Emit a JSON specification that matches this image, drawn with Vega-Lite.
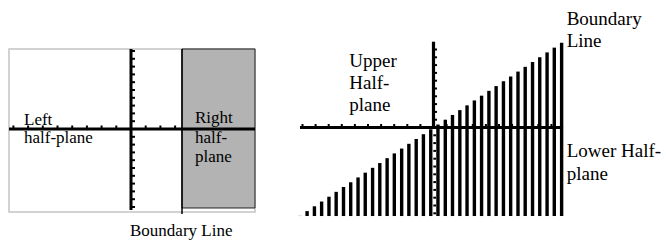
{
  "$schema": "https://vega.github.io/schema/vega-lite/v6.json",
  "padding": 0,
  "spacing": 0,
  "bounds": "flush",
  "config": {"view": {"stroke": null}, "text": {"font": "Liberation Serif"}},
  "hconcat": [
    {
      "width": 290,
      "height": 241,
      "encoding": {
        "x": {"field": "x", "type": "quantitative", "axis": null, "scale": {"domain": [-8.912, 10.816], "nice": false, "zero": false}},
        "y": {"field": "y", "type": "quantitative", "axis": null, "scale": {"domain": [-14.359, 16.538], "nice": false, "zero": false}}
      },
      "layer": [
        {
          "data": {"values": [{"x": -8.30, "y": 10.256, "x2": 8.435, "y2": -10.641}]},
          "mark": {"type": "rect", "fill": "white", "stroke": "#c4c4c4", "strokeWidth": 1.5},
          "encoding": {"x2": {"field": "x2"}, "y2": {"field": "y2"}}
        },
        {
          "data": {"values": [{"x": 3.469, "y": 10.256, "x2": 8.435, "y2": -10.128}]},
          "mark": {"type": "rect", "fill": "#b3b3b3", "stroke": "#222222", "strokeWidth": 1},
          "encoding": {"x2": {"field": "x2"}, "y2": {"field": "y2"}}
        },
        {
          "data": {"values": [
            {"x": -8.30, "y": 0, "x2": 8.435, "y2": 0},
            {"x": 0, "y": 10.256, "x2": 0, "y2": -10.385}
          ]},
          "mark": {"type": "rule", "color": "black", "strokeWidth": 3},
          "encoding": {"x2": {"field": "x2"}, "y2": {"field": "y2"}}
        },
        {
          "data": {"values": [{"x": 3.469, "y": 10.256, "x2": 3.469, "y2": -10.897}]},
          "mark": {"type": "rule", "color": "black", "strokeWidth": 1.5},
          "encoding": {"x2": {"field": "x2"}, "y2": {"field": "y2"}}
        },
        {
          "data": {"values": [
            {"x": -8, "y": 0}, {"x": -7, "y": 0}, {"x": -6, "y": 0}, {"x": -5, "y": 0},
            {"x": -4, "y": 0}, {"x": -3, "y": 0}, {"x": -2, "y": 0}, {"x": -1, "y": 0},
            {"x": 1, "y": 0}, {"x": 2, "y": 0}, {"x": 3, "y": 0}
          ]},
          "mark": {"type": "rule", "color": "black", "strokeWidth": 2},
          "encoding": {"y2": {"datum": 0.45}}
        },
        {
          "data": {"values": [
            {"x": 0, "y": 1}, {"x": 0, "y": 2}, {"x": 0, "y": 3}, {"x": 0, "y": 4}, {"x": 0, "y": 5},
            {"x": 0, "y": 6}, {"x": 0, "y": 7}, {"x": 0, "y": 8}, {"x": 0, "y": 9}, {"x": 0, "y": 10},
            {"x": 0, "y": -1}, {"x": 0, "y": -2}, {"x": 0, "y": -3}, {"x": 0, "y": -4}, {"x": 0, "y": -5},
            {"x": 0, "y": -6}, {"x": 0, "y": -7}, {"x": 0, "y": -8}, {"x": 0, "y": -9}, {"x": 0, "y": -10}
          ]},
          "mark": {"type": "rule", "color": "black", "strokeWidth": 2},
          "encoding": {"x2": {"datum": 0.27}}
        },
        {
          "data": {"values": [
            {"t": "Left", "x": -7.279, "y": 0.513},
            {"t": "half-plane", "x": -7.279, "y": -1.731},
            {"t": "Right", "x": 4.354, "y": 0.705},
            {"t": "half-", "x": 4.354, "y": -1.795},
            {"t": "plane", "x": 4.354, "y": -4.295},
            {"t": "Boundary Line", "x": -0.068, "y": -13.718}
          ]},
          "mark": {"type": "text", "align": "left", "baseline": "alphabetic", "fontSize": 17, "color": "black", "font": "Liberation Serif"},
          "encoding": {"text": {"field": "t"}}
        }
      ]
    },
    {
      "width": 376,
      "height": 241,
      "encoding": {
        "x": {"field": "x", "type": "quantitative", "axis": null, "scale": {"domain": [-10.954, 17.748], "nice": false, "zero": false}},
        "y": {"field": "y", "type": "quantitative", "axis": null, "scale": {"domain": [-14.551, 16.346], "nice": false, "zero": false}}
      },
      "layer": [
        {
          "data": {"values": [
            {"x": -10.20, "y": -11.33}, {"x": -9.65, "y": -10.72}, {"x": -9.09, "y": -10.10},
            {"x": -8.54, "y": -9.49}, {"x": -7.98, "y": -8.87}, {"x": -7.43, "y": -8.25},
            {"x": -6.87, "y": -7.63}, {"x": -6.32, "y": -7.02}, {"x": -5.76, "y": -6.40},
            {"x": -5.21, "y": -5.79}, {"x": -4.65, "y": -5.17}, {"x": -4.10, "y": -4.56},
            {"x": -3.54, "y": -3.93}, {"x": -2.99, "y": -3.32}, {"x": -2.43, "y": -2.70},
            {"x": -1.88, "y": -2.09}, {"x": -1.32, "y": -1.47}, {"x": -0.77, "y": -0.86},
            {"x": -0.21, "y": -0.23}, {"x": 0.34, "y": 0.38}, {"x": 0.90, "y": 1.00},
            {"x": 1.45, "y": 1.61}, {"x": 2.01, "y": 2.23}, {"x": 2.56, "y": 2.84},
            {"x": 3.12, "y": 3.47}, {"x": 3.67, "y": 4.08}, {"x": 4.23, "y": 4.70},
            {"x": 4.78, "y": 5.31}, {"x": 5.34, "y": 5.93}, {"x": 5.89, "y": 6.54},
            {"x": 6.45, "y": 7.17}, {"x": 7.00, "y": 7.78}, {"x": 7.56, "y": 8.40},
            {"x": 8.11, "y": 9.01}, {"x": 8.67, "y": 9.63}, {"x": 9.22, "y": 10.24},
            {"x": 9.78, "y": 10.87}
          ]},
          "mark": {"type": "rule", "color": "black", "strokeWidth": 3.4},
          "encoding": {"y2": {"datum": -11.35}}
        },
        {
          "data": {"values": [
            {"x": -10.19, "y": 0, "x2": 9.89, "y2": 0},
            {"x": 0, "y": 0, "x2": 0, "y2": 11.0}
          ]},
          "mark": {"type": "rule", "color": "black", "strokeWidth": 3.2},
          "encoding": {"x2": {"field": "x2"}, "y2": {"field": "y2"}}
        },
        {
          "data": {"values": [
            {"x": -10, "y": 0}, {"x": -9, "y": 0}, {"x": -8, "y": 0}, {"x": -7, "y": 0}, {"x": -6, "y": 0},
            {"x": -5, "y": 0}, {"x": -4, "y": 0}, {"x": -3, "y": 0}, {"x": -2, "y": 0}, {"x": -1, "y": 0},
            {"x": 1, "y": 0}, {"x": 2, "y": 0}, {"x": 3, "y": 0}, {"x": 4, "y": 0}, {"x": 5, "y": 0},
            {"x": 6, "y": 0}, {"x": 7, "y": 0}, {"x": 8, "y": 0}, {"x": 9, "y": 0}
          ]},
          "mark": {"type": "rule", "color": "black", "strokeWidth": 2},
          "encoding": {"y2": {"datum": 0.45}}
        },
        {
          "data": {"values": [
            {"x": 0, "y": 1}, {"x": 0, "y": 2}, {"x": 0, "y": 3}, {"x": 0, "y": 4}, {"x": 0, "y": 5},
            {"x": 0, "y": 6}, {"x": 0, "y": 7}, {"x": 0, "y": 8}, {"x": 0, "y": 9}, {"x": 0, "y": 10}
          ]},
          "mark": {"type": "rule", "color": "black", "strokeWidth": 2},
          "encoding": {"x2": {"datum": 0.27}}
        },
        {
          "data": {"values": [
            {"x": -0.015, "y": -1}, {"x": -0.015, "y": -2}, {"x": -0.015, "y": -3}, {"x": -0.015, "y": -4},
            {"x": -0.015, "y": -5}, {"x": -0.015, "y": -6}, {"x": -0.015, "y": -7}, {"x": -0.015, "y": -8},
            {"x": -0.015, "y": -9}, {"x": -0.015, "y": -10}, {"x": -0.015, "y": -11}
          ]},
          "mark": {"type": "rule", "color": "black", "strokeWidth": 2},
          "encoding": {"x2": {"datum": 0.19}}
        },
        {
          "data": {"values": [
            {"t": "Upper", "x": -6.427, "y": 7.795},
            {"t": "Half-", "x": -6.427, "y": 4.936},
            {"t": "plane", "x": -6.427, "y": 2.179},
            {"t": "Boundary", "x": 10.168, "y": 13.141},
            {"t": "Line", "x": 10.168, "y": 10.359},
            {"t": "Lower Half-", "x": 10.168, "y": -3.744},
            {"t": "plane", "x": 10.168, "y": -6.731}
          ]},
          "mark": {"type": "text", "align": "left", "baseline": "alphabetic", "fontSize": 19, "color": "black", "font": "Liberation Serif"},
          "encoding": {"text": {"field": "t"}}
        }
      ]
    }
  ]
}
